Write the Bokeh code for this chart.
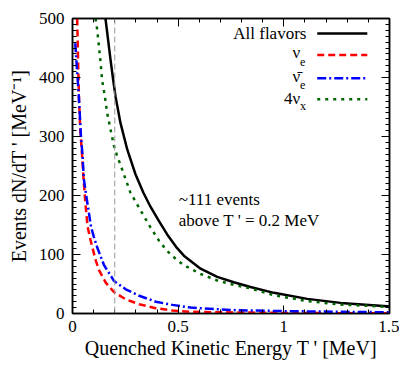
from bokeh.plotting import figure
from bokeh.models import LinearAxis, Range1d, Span, Label, SingleIntervalTicker, CustomJSTickFormatter
from bokeh.embed import file_html
from bokeh.resources import INLINE

# ---- data ----
t_all = [0.156, 0.168, 0.180, 0.191, 0.2035, 0.227, 0.259, 0.298, 0.335, 0.369, 0.41, 0.448, 0.49, 0.527,
         0.606, 0.685, 0.763, 0.842, 0.953, 1.111, 1.268, 1.489, 1.5]
n_all = [500, 465, 430, 400, 368, 323, 278, 236, 205, 181, 156, 134, 113, 98,
         76, 62, 53, 45, 35, 24.8, 18, 12.4, 12.2]

t_nue = [0.022, 0.027, 0.031, 0.037, 0.045, 0.052, 0.0615, 0.071, 0.085, 0.0947, 0.11,
         0.126, 0.158, 0.197, 0.252, 0.316, 0.394, 0.473, 0.552, 0.7, 0.85, 1.0, 1.25, 1.5]
n_nue = [500, 420, 360, 310, 270, 230, 185, 148, 125, 111, 90,
         73, 52, 36, 24, 15.7, 9, 5, 3, 2, 1.5, 1, 0.6, 0.4]

t_nuebar = [0.013, 0.020, 0.030, 0.040, 0.047, 0.054, 0.065, 0.077, 0.087, 0.101, 0.118,
            0.148, 0.158, 0.197, 0.252, 0.316, 0.394, 0.473, 0.56, 0.621, 0.78, 1.0, 1.25, 1.5]
n_nuebar = [458, 420, 368, 300, 270, 227, 200, 172, 148, 130, 111,
            83, 77, 55, 41, 30, 20, 14.6, 10, 8.5, 5.5, 4, 3, 2]

t_nux = [0.109, 0.117, 0.125, 0.1325, 0.140, 0.153, 0.164, 0.180, 0.1955, 0.211, 0.227,
         0.243, 0.274, 0.32, 0.369, 0.41, 0.448, 0.49, 0.527, 0.606, 0.685, 0.763, 0.842, 0.953,
         1.111, 1.268, 1.489, 1.5]
n_nux = [500, 481, 453, 427, 396, 368, 340, 312, 285, 267, 252,
         236, 205, 176, 146, 123, 106, 92, 82, 67, 56, 48.5, 42.5, 31,
         21, 15.2, 11.3, 11]

threshold = 0.2

FONT = "Liberation Serif"

p = figure(width=399, height=361, x_range=Range1d(0, 1.5), y_range=Range1d(0, 500),
           output_backend="svg", toolbar_location=None,
           min_border_left=72, min_border_right=10, min_border_top=18, min_border_bottom=40,
           x_axis_label="Quenched Kinetic Energy T ' [MeV]",
           y_axis_label="Events dN/dT ' [MeV\u207b\u00b9]")
p.grid.visible = False
p.outline_line_color = "black"
p.outline_line_width = 1.5
p.background_fill_color = "white"
p.border_fill_color = "white"

def style(ax, labels=True):
    ax.major_tick_in = 8
    ax.major_tick_out = 0
    ax.minor_tick_in = 4
    ax.minor_tick_out = 0
    ax.axis_line_color = "black"
    ax.axis_line_width = 1.5
    ax.major_tick_line_width = 1
    ax.minor_tick_line_width = 1
    ax.major_label_text_font = FONT
    ax.major_label_text_color = "black"
    ax.axis_label_text_font = FONT
    ax.axis_label_text_font_style = "normal"
    ax.axis_label_text_color = "black"
    ax.axis_label_text_font_size = "20px"
    ax.major_label_text_font_size = "17px"
    if not labels:
        ax.formatter = CustomJSTickFormatter(code="return ''")
        ax.major_label_text_font_size = "10px"
        ax.major_label_standoff = 0

p.xaxis.ticker = SingleIntervalTicker(interval=0.5, num_minor_ticks=5)
p.yaxis.ticker = SingleIntervalTicker(interval=100, num_minor_ticks=10)
p.xaxis.major_label_overrides = {0: "0", 0.5: "0.5", 1: "1", 1.5: "1.5"}
for ax in p.xaxis + p.yaxis:
    style(ax)
p.xaxis.major_label_standoff = 7
p.xaxis.axis_label_standoff = 2
p.yaxis.major_label_standoff = 8
p.yaxis.axis_label_standoff = 6

top = LinearAxis(ticker=SingleIntervalTicker(interval=0.5, num_minor_ticks=5))
right = LinearAxis(ticker=SingleIntervalTicker(interval=100, num_minor_ticks=10))
style(top, labels=False)
style(right, labels=False)
p.add_layout(top, "above")
p.add_layout(right, "right")

p.add_layout(Span(location=threshold, dimension="height", line_color="#999999",
                  line_dash="6 3", line_width=1))

W = 2.5
p.line(t_all, n_all, line_color="black", line_width=W)
p.line(t_nue, n_nue, line_color="red", line_width=W, line_dash="7 4")
p.line(t_nuebar, n_nuebar, line_color="blue", line_width=W, line_dash="9 3 2 3")
p.line(t_nux, n_nux, line_color="darkgreen", line_width=W, line_dash="3 5")

# ---- legend (custom: label on the left, sample on the right) ----
lx0, lx1 = 1.158, 1.395
rows_y = [474.7, 438, 398.6, 363]
p.line([lx0, lx1], [rows_y[0]] * 2, line_color="black", line_width=W)
p.line([lx0, lx1], [rows_y[1]] * 2, line_color="red", line_width=W, line_dash="7 4")
p.line([lx0, lx1], [rows_y[2]] * 2, line_color="blue", line_width=W, line_dash="9 3 2 3")
p.line([lx0, lx1], [rows_y[3]] * 2, line_color="darkgreen", line_width=W, line_dash="3 5")

def lab(x, y, txt, size="17px", align="right"):
    p.add_layout(Label(x=x, y=y, text=txt, text_font=FONT, text_font_size=size,
                       text_align=align, text_baseline="middle", text_color="black"))

lab(1.107, rows_y[0], "All flavors")
sx = 1.077
lab(sx, 443, "\u03bd")
lab(sx, 427, "e", size="12px", align="left")
lab(sx, 402, "\u03bd\u0304")
lab(sx, 387, "e", size="12px", align="left")
lab(sx, 365, "4\u03bd")
lab(sx, 352, "x", size="12px", align="left")

lab(0.503, 193, "~111 events", align="left")
lab(0.503, 157, "above T ' = 0.2 MeV", align="left")

open("out.html", "w").write(file_html(p, INLINE))
